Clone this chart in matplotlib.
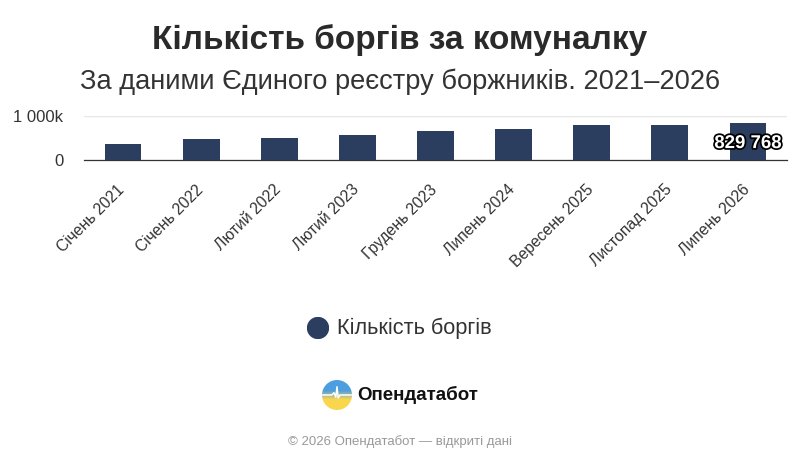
import numpy as np
import matplotlib.pyplot as plt
from matplotlib.patches import Circle
import matplotlib.patheffects as pe

plt.rcParams['font.family'] = ['Liberation Sans', 'DejaVu Sans']

months = ['Січень 2021', 'Січень 2022', 'Лютий 2022', 'Лютий 2023', 'Грудень 2023',
          'Липень 2024', 'Вересень 2025', 'Листопад 2025', 'Липень 2026']
debts = [356000, 474000, 505000, 569000, 664000, 704000, 799000, 799000, 829768]

bar_color = '#2c3e5f'
W, H = 800, 467

fig = plt.figure(figsize=(8, 4.67), dpi=100)
ax = fig.add_axes([84 / W, 1 - 160 / H, 703 / W, 44 / H])

x = np.arange(len(months))
ax.bar(x, debts, width=0.47, color=bar_color, zorder=3)
ax.set_xlim(-0.5, len(months) - 0.5)
ax.set_ylim(0, 1000000)

ax.set_yticks([0, 1000000])
ax.set_yticklabels(['0', '1 000k'], fontsize=12, color='#333333')
ax.set_xticks(x)
ax.set_xticklabels([])
# підписи місяців (нахилені, зміщені трохи ліворуч від центру стовпця)
for i, m in enumerate(months):
    ax.annotate(m, xy=(i, 0), xycoords=('data', 'axes fraction'),
                xytext=(-6, -22), textcoords='offset pixels',
                rotation=45, ha='right', va='top', rotation_mode='anchor',
                fontsize=11.3, color='#333333', annotation_clip=False)
ax.tick_params(axis='x', length=0)
ax.tick_params(axis='y', length=0, pad=15)
ax.grid(axis='y', color='#e6e6e6', linewidth=1, zorder=0)
for s in ['top', 'right', 'left']:
    ax.spines[s].set_visible(False)
ax.spines['bottom'].set_color('#333333')
ax.spines['bottom'].set_linewidth(0.9)

# підпис останнього значення
last = len(debts) - 1
ax.text(last, debts[last] * 0.45, f"{debts[last]:,}".replace(',', ' '),
        ha='center', va='center', fontsize=13.4, fontweight='bold', color='white',
        path_effects=[pe.withStroke(linewidth=2.5, foreground='black')], zorder=5)

fig.text(0.5, 1 - 40 / H, 'Кількість боргів за комуналку', ha='center', va='center',
         fontsize=24, fontweight='bold', color='#2a2a2a')
fig.text(0.5, 1 - 82 / H, 'За даними Єдиного реєстру боржників. 2021–2026', ha='center',
         va='center', fontsize=19.6, color='#333333')

# легенда
lg = fig.add_axes([(318 - 11) / W, 1 - (328 + 11) / H, 22 / W, 22 / H])
lg.set_xlim(-1, 1)
lg.set_ylim(-1, 1)
lg.axis('off')
lg.add_patch(Circle((0, 0), 0.95, color=bar_color))
fig.text(337 / W, 1 - 328 / H, 'Кількість боргів', ha='left', va='center',
         fontsize=15.7, color='#333333')

# логотип
lax = fig.add_axes([(337 - 15) / W, 1 - (395 + 15) / H, 30 / W, 30 / H])
lax.set_xlim(-1, 1)
lax.set_ylim(-1, 1)
lax.axis('off')
grad = np.linspace(0, 1, 64)[:, None]
top = np.array([0.30, 0.62, 0.88])
bot = np.array([0.98, 0.84, 0.30])
mix = np.clip((grad - 0.35) / 0.3, 0, 1)
img = (1 - mix)[..., None] * bot + mix[..., None] * top
img = np.repeat(img, 64, axis=1)
im = lax.imshow(img, extent=[-1, 1, -1, 1], origin='lower', interpolation='bilinear')
clip = Circle((0, 0), 1, transform=lax.transData)
im.set_clip_path(clip)
px = [-1, -0.35, -0.2, -0.08, 0.0, 0.08, 0.2, 1]
py = [0.0, 0.0, 0.15, -0.15, 0.55, -0.2, 0.0, 0.0]
ln, = lax.plot(px, py, color='white', linewidth=1.1)
ln.set_clip_path(Circle((0, 0), 1, transform=lax.transData))
fig.text(357 / W, 1 - 395 / H, 'Опендатабот', ha='left', va='center',
         fontsize=13.5, fontweight='bold', color='#111111')

fig.text(0.5, 1 - 442 / H, '© 2026 Опендатабот — відкриті дані', ha='center', va='center',
         fontsize=9.5, color='#999999')

fig.savefig('out.png', dpi=100, facecolor='white')
